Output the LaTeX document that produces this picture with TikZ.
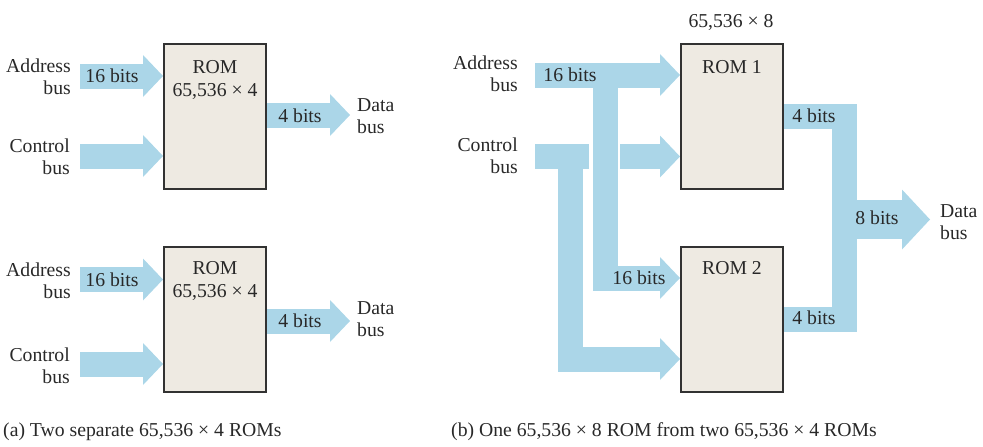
\documentclass[tikz,border=0pt]{standalone}
\usepackage{fontspec}
\setmainfont{Liberation Serif}
\usetikzlibrary{arrows.meta}
\definecolor{busblue}{RGB}{171,214,232}
\definecolor{rombg}{RGB}{238,234,226}
\definecolor{boxline}{RGB}{50,50,50}
\definecolor{txt}{RGB}{40,40,40}
\pgfdeclarelayer{bg}
\pgfsetlayers{bg,main}
\tikzset{
  busline/.style={draw=busblue, line width=25pt, line join=miter},
  bus/.style={busline, -{Triangle[width=42pt,length=20pt,line width=0pt]}},
  bus8/.style={draw=busblue, line width=39pt, line join=miter, -{Triangle[width=60pt,length=28pt,line width=0pt]}},
  rombox/.style={draw=boxline, fill=rombg, line width=2pt, minimum width=102pt, minimum height=145pt, inner sep=0pt},
  lbl/.style={font=\fontsize{19.7}{22}\selectfont, text=txt, inner sep=0pt},
  lblL/.style={lbl, align=right, anchor=east},
  lblR/.style={lbl, align=left, anchor=west},
  romtxt/.style={lbl, align=center, font=\fontsize{19.7}{23}\selectfont},
}
\begin{document}
\begin{tikzpicture}[x=1pt,y=-1pt]
\useasboundingbox (0,0) rectangle (983,447);
% ---------------- (a) ----------------
\node[rombox] (romA) at (215,116.5) {};
\node[rombox] (romB) at (215,319) {};
\node[romtxt] (romAt) at (215,79.5) {ROM\\65,536 × 4};
\node[romtxt] (romBt) at (215,281) {ROM\\65,536 × 4};

\node[lblL] (addrA) at (71,77) {Address\\bus};
\node[lblL] (ctrlA) at (70,157) {Control\\bus};
\node[lblR] (dataA) at (357,116.5) {Data\\bus};
\node[lblL] (addrB) at (71,281) {Address\\bus};
\node[lblL] (ctrlB) at (70,366) {Control\\bus};
\node[lblR] (dataB) at (357,319.5) {Data\\bus};

\coordinate (aA) at (80,76);
\coordinate (cA) at (80,156);
\coordinate (dA) at (350,115);
\coordinate (aB) at (80,279.5);
\coordinate (cB) at (80,364);
\coordinate (dB) at (350,321);

\begin{pgfonlayer}{bg}
\draw[bus] (aA) -- (romA.west |- aA);
\draw[bus] (cA) -- (romA.west |- cA);
\draw[bus] (romA.east |- dA) -- (dA);
\draw[bus] (aB) -- (romB.west |- aB);
\draw[bus] (cB) -- (romB.west |- cB);
\draw[bus] (romB.east |- dB) -- (dB);
\end{pgfonlayer}

\node[lbl] (bA) at (112,76) {16 bits};
\node[lbl] (oA) at (300,116) {4 bits};
\node[lbl] (bB) at (112,279.5) {16 bits};
\node[lbl] (oB) at (300,321) {4 bits};

\node[lbl, anchor=west] (capA) at (3,432) {(a) Two separate 65,536 × 4 ROMs};

% ---------------- (b) ----------------
\node[rombox] (rom1) at (732,116.5) {};
\node[rombox] (rom2) at (732,319) {};
\node[lbl] (rom1t) at (732,67) {ROM 1};
\node[lbl] (rom2t) at (732,268) {ROM 2};
\node[lbl] (size) at (731,22) {65,536 × 8};

\node[lblL] (addrC) at (518,74) {Address\\bus};
\node[lblL] (ctrlC) at (518,156) {Control\\bus};
\node[lblR] (dataC) at (940,222.5) {Data\\bus};

\coordinate (addrTail) at (535,75);
\coordinate (addrJ) at (605.5,75);
\coordinate (addrK) at (605.5,278);
\coordinate (ctrlTail) at (535,156.5);
\coordinate (ctrlJ) at (570,156.5);
\coordinate (ctrlEnd) at (589,156.5);
\coordinate (ctrlK) at (570,359);
\coordinate (ctrlR) at (620,156.5);
\coordinate (o1) at (844.5,116);
\coordinate (o2) at (844.5,319);
\coordinate (o8) at (844.5,219.5);
\coordinate (d8) at (930,219.5);

\begin{pgfonlayer}{bg}
\draw[bus] (addrTail) -- (rom1.west |- addrTail);
\draw[bus] (addrJ) -- (addrK) -- (rom2.west |- addrK);
\draw[busline] (ctrlTail) -- (ctrlEnd);
\draw[bus] (ctrlJ) -- (ctrlK) -- (rom2.west |- ctrlK);
\draw[bus] (ctrlR) -- (rom1.west |- ctrlR);
\draw[busline] (rom1.east |- o1) -- (o1) -- (o2) -- (rom2.east |- o2);
\draw[bus8] (o8) -- (d8);
\end{pgfonlayer}

\node[lbl] (b1) at (570,75) {16 bits};
\node[lbl] (b2) at (639,278) {16 bits};
\node[lbl] (o1t) at (814,116) {4 bits};
\node[lbl] (o2t) at (814,318) {4 bits};
\node[lbl] (o8t) at (877,218) {8 bits};

\node[lbl, anchor=west] (capB) at (451,432) {(b) One 65,536 × 8 ROM from two 65,536 × 4 ROMs};
\end{tikzpicture}
\end{document}
